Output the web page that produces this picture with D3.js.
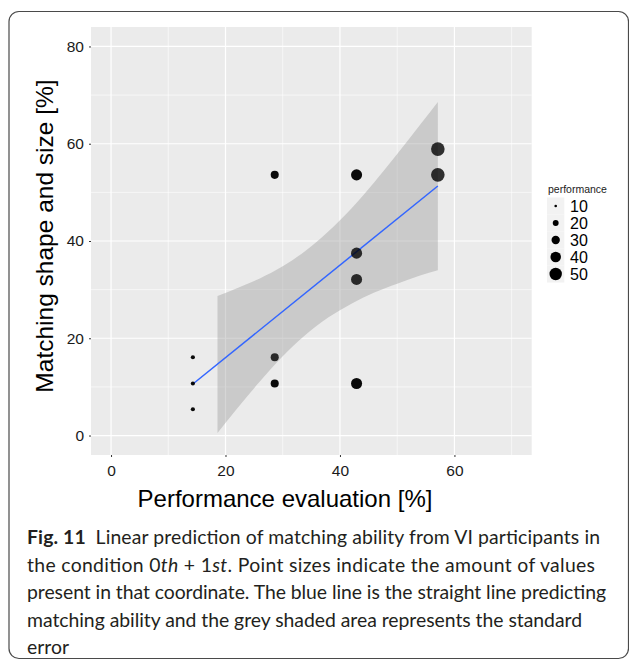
<!DOCTYPE html>
<html>
<head>
<meta charset="utf-8">
<script src="https://cdn.jsdelivr.net/npm/d3@7"></script>
<style>
  body { margin: 0; background: #fff; }
  svg { display: block; }
</style>
</head>
<body>
<script>
// Observations: performance evaluation (x) against matching shape and size (y)
const xValues     = [14.3, 14.3, 14.3, 28.6, 28.6, 28.6, 42.9, 42.9, 42.9, 42.9, 57.1, 57.1];
const yValues     = [16.1, 10.7, 5.4, 53.6, 16.1, 10.7, 53.6, 37.5, 32.1, 10.7, 58.9, 53.6];
const performance = [14.3, 14.3, 14.3, 28.6, 28.6, 28.6, 42.9, 42.9, 42.9, 42.9, 57.1, 57.1];
// number of observations stacked on each coordinate
const overlap     = [2, 2, 2, 2, 1, 2, 2, 1, 1, 2, 1, 1];

// Fitted line and standard-error band
const fitX = [14.3, 57.1];
const fitY = [10.6, 51.3];
const bandX     = [18.6, 22, 26, 30, 34, 38, 42, 46, 50, 54, 57.1];
const bandLower = [0.5, 5.5, 11.1, 16.3, 20.7, 24.3, 27.1, 29.4, 31.2, 32.9, 34.0];
const bandUpper = [28.7, 30.3, 32.3, 34.8, 38.0, 42.0, 46.7, 52.1, 57.9, 63.9, 68.6];

// Axes and legend
const xTicks = [0, 20, 40, 60];
const yTicks = [0, 20, 40, 60, 80];
const xMinor = [10, 30, 50, 70];
const yMinor = [10, 30, 50, 70];
const legendValues = [10, 20, 30, 40, 50];

const W = 629, H = 660;
const panel = { left: 91, right: 531.7, top: 27, bottom: 455 };

const svg = d3.select("body").append("svg")
  .attr("width", W).attr("height", H)
  .attr("viewBox", `0 0 ${W} ${H}`);

// Figure frame
svg.append("rect")
  .attr("x", 9).attr("y", 11.5)
  .attr("width", 619.5).attr("height", 647)
  .attr("rx", 10).attr("ry", 10)
  .attr("fill", "none")
  .attr("stroke", "#4a4a4a")
  .attr("stroke-width", 1.2);

const x = d3.scaleLinear().domain([-3.5, 73.5]).range([panel.left, panel.right]);
const y = d3.scaleLinear().domain([-4, 84]).range([panel.bottom, panel.top]);
const r = d3.scaleSqrt().domain([10, 57.1]).range([1.3, 6.8]);

// Panel background
svg.append("rect")
  .attr("x", panel.left).attr("y", panel.top)
  .attr("width", panel.right - panel.left)
  .attr("height", panel.bottom - panel.top)
  .attr("fill", "#ebebeb");

const grid = svg.append("g").attr("stroke", "#fff");
grid.selectAll(".xminor").data(xMinor).join("line")
  .attr("x1", d => x(d)).attr("x2", d => x(d))
  .attr("y1", panel.top).attr("y2", panel.bottom)
  .attr("stroke-width", 0.6);
grid.selectAll(".yminor").data(yMinor).join("line")
  .attr("y1", d => y(d)).attr("y2", d => y(d))
  .attr("x1", panel.left).attr("x2", panel.right)
  .attr("stroke-width", 0.6);
grid.selectAll(".xmajor").data(xTicks).join("line")
  .attr("x1", d => x(d)).attr("x2", d => x(d))
  .attr("y1", panel.top).attr("y2", panel.bottom)
  .attr("stroke-width", 1.2);
grid.selectAll(".ymajor").data(yTicks).join("line")
  .attr("y1", d => y(d)).attr("y2", d => y(d))
  .attr("x1", panel.left).attr("x2", panel.right)
  .attr("stroke-width", 1.2);

// Standard-error band
const band = bandX.map((v, i) => ({ x: v, lo: bandLower[i], hi: bandUpper[i] }));
svg.append("path")
  .datum(band)
  .attr("fill", "#999999")
  .attr("fill-opacity", 0.4)
  .attr("d", d3.area()
    .x(d => x(d.x))
    .y0(d => y(d.lo))
    .y1(d => y(d.hi))
    .curve(d3.curveMonotoneX));

// Fitted line
const fit = fitX.map((v, i) => ({ x: v, y: fitY[i] }));
svg.append("path")
  .datum(fit)
  .attr("fill", "none")
  .attr("stroke", "#3366ff")
  .attr("stroke-width", 1.5)
  .attr("d", d3.line().x(d => x(d.x)).y(d => y(d.y)));

// Points
const pts = xValues.map((v, i) => ({ x: v, y: yValues[i], p: performance[i], n: overlap[i] }));
svg.append("g").selectAll("circle").data(pts).join("circle")
  .attr("cx", d => x(d.x))
  .attr("cy", d => y(d.y))
  .attr("r", d => r(d.p))
  .attr("fill", "#000")
  .attr("fill-opacity", d => 1 - Math.pow(0.2, d.n));

// Axes
const axisFont = "'Liberation Sans', Arial, Helvetica, sans-serif";
const yAxis = svg.append("g")
  .attr("transform", `translate(${panel.left},0)`)
  .call(d3.axisLeft(y).tickValues(yTicks).tickSize(2).tickPadding(5));
const xAxis = svg.append("g")
  .attr("transform", `translate(0,${panel.bottom})`)
  .call(d3.axisBottom(x).tickValues(xTicks).tickSize(2).tickPadding(8));
[yAxis, xAxis].forEach(g => {
  g.attr("font-family", axisFont).attr("font-size", 15.5);
  g.select(".domain").remove();
  g.selectAll(".tick line").attr("stroke", "#333").attr("stroke-width", 1);
  g.selectAll(".tick text").attr("fill", "#1a1a1a");
});

// Axis titles
svg.append("text")
  .attr("x", 285).attr("y", 507)
  .attr("text-anchor", "middle")
  .style("font-family", axisFont)
  .style("font-size", "24px")
  .attr("fill", "#000")
  .text("Performance evaluation [%]");

svg.append("text")
  .attr("transform", `translate(53,236) rotate(-90)`)
  .attr("text-anchor", "middle")
  .style("font-family", axisFont)
  .style("font-size", "24.5px")
  .attr("fill", "#000")
  .text("Matching shape and size [%]");

// Size legend
const legend = svg.append("g");
legend.append("text")
  .attr("x", 548).attr("y", 193)
  .style("font-family", axisFont)
  .style("font-size", "10.5px")
  .attr("fill", "#1a1a1a")
  .text("performance");
const keyH = 17, keyTop = 197.5;
const keys = legend.selectAll(".key").data(legendValues).join("g")
  .attr("transform", (d, i) => `translate(547,${keyTop + i * keyH})`);
keys.append("rect")
  .attr("width", 17.3).attr("height", keyH)
  .attr("fill", "#f2f2f2");
keys.append("circle")
  .attr("cx", 8.7).attr("cy", keyH / 2)
  .attr("r", d => r(d))
  .attr("fill", "#000");
keys.append("text")
  .attr("x", 23).attr("y", keyH / 2 + 6)
  .style("font-family", axisFont)
  .style("font-size", "16px")
  .attr("fill", "#000")
  .text(d => d);

// Caption
const capFont = "Lato, 'Open Sans', sans-serif";
const capLines = [
  [{ t: "Fig. 11", w: "bold" }, { t: "\u2002Linear prediction of matching ability from VI participants in" }],
  [{ t: "the condition 0" }, { t: "th", i: true }, { t: " + 1" }, { t: "st", i: true }, { t: ". Point sizes indicate the amount of values" }],
  [{ t: "present in that coordinate. The blue line is the straight line predicting" }],
  [{ t: "matching ability and the grey shaded area represents the standard" }],
  [{ t: "error" }]
];
const capBase = [544, 571.5, 599, 626.5, 654];
const capWidth = [573, 568, 579, 555, null];
capLines.forEach((line, li) => {
  const t = svg.append("text")
    .attr("x", 27).attr("y", capBase[li])
    .style("font-family", capFont)
    .style("font-size", "19.4px")
    .attr("fill", "#231f20");
  if (capWidth[li]) t.attr("textLength", capWidth[li]).attr("lengthAdjust", "spacing");
  line.forEach(s => {
    t.append("tspan")
      .style("font-weight", s.w || "normal")
      .style("font-style", s.i ? "italic" : "normal")
      .text(s.t);
  });
});
</script>
</body>
</html>
